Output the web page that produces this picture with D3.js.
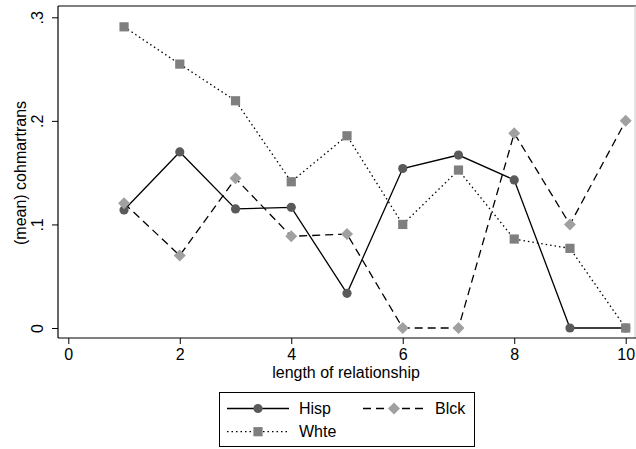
<!DOCTYPE html>
<html><head><meta charset="utf-8">
<script src="https://cdn.jsdelivr.net/npm/d3@7"></script>
<style>body{margin:0;background:#fff}svg{display:block}text{font-family:"Liberation Sans",Arial,sans-serif}</style>
</head><body><svg id="c" width="636" height="449"></svg>
<script>
const xValues = [1,2,3,4,5,6,7,8,9,10];
const hisp = [0.114,0.170,0.115,0.1165,0.0335,0.154,0.167,0.143,0,0];
const blck = [0.1205,0.070,0.1445,0.0885,0.0907,0,0,0.188,0.100,0.200];
const whte = [0.2908,0.2548,0.2194,0.1412,0.1856,0.100,0.1525,0.0859,0.0769,0];
const xTicks = [0,2,4,6,8,10];
const yTicks = [0,0.1,0.2,0.3];
const yTickLabels = ["0",".1",".2",".3"];
const seriesNames = ["Hisp","Blck","Whte"];

const svg = d3.select("#c");
const x = d3.scaleLinear().domain([0,10]).range([68.3,625.7]);
const y = d3.scaleLinear().domain([0,0.3]).range([328,17.3]);
const FS = 16;

// frame
svg.append("line").attr("x1",58).attr("x2",636).attr("y1",6).attr("y2",6).attr("stroke","#000").attr("stroke-width",1.2);
svg.append("line").attr("x1",635).attr("x2",635).attr("y1",6).attr("y2",338).attr("stroke","#c8c8c8").attr("stroke-width",1);

const xAxis = svg.append("g").attr("transform","translate(0,338)")
  .call(d3.axisBottom(x).tickValues(xTicks).tickSize(6).tickPadding(5).tickFormat(d3.format("d")));
xAxis.select(".domain").attr("d","M58,0H636").attr("stroke","#000").attr("stroke-width",1.2);
xAxis.selectAll("text").attr("font-size",FS).attr("fill","#000").attr("font-family","Liberation Sans, Arial, sans-serif");

const yAxis = svg.append("g").attr("transform","translate(58,0)")
  .call(d3.axisLeft(y).tickValues(yTicks).tickSize(6).tickFormat((d,i)=>yTickLabels[i]));
yAxis.select(".domain").attr("d","M0,6V338").attr("stroke","#000").attr("stroke-width",1.2);
yAxis.selectAll("text").attr("font-size",FS).attr("fill","#000").attr("font-family","Liberation Sans, Arial, sans-serif")
  .attr("text-anchor","middle").attr("x",null).attr("dy",null)
  .attr("transform","translate(-15,0) rotate(-90)");

svg.append("text").attr("x",346).attr("y",378).attr("text-anchor","middle").attr("font-size",FS).text("length of relationship");
svg.append("text").attr("transform","translate(26,173) rotate(-90)").attr("text-anchor","middle").attr("font-size",FS).text("(mean) cohmartrans");

const styles = {
  Hisp:{data:hisp,dash:null,color:"#5a5a5a",shape:"circle"},
  Blck:{data:blck,dash:"8,5",color:"#a0a0a0",shape:"diamond"},
  Whte:{data:whte,dash:"1.5,3",color:"#7f7f7f",shape:"square"}
};
function marker(g,shape,cx,cy,color){
  if(shape==="circle") g.append("circle").attr("cx",cx).attr("cy",cy).attr("r",4.6).attr("fill",color);
  else if(shape==="square") g.append("rect").attr("x",cx-4.6).attr("y",cy-4.6).attr("width",9.2).attr("height",9.2).attr("fill",color);
  else g.append("path").attr("d",`M${cx},${cy-6}L${cx+6},${cy}L${cx},${cy+6}L${cx-6},${cy}Z`).attr("fill",color);
}
const line = d3.line().x((d,i)=>x(xValues[i])).y(d=>y(d));
const order = ["Hisp","Blck","Whte"];
order.forEach(n=>{
  const s=styles[n];
  svg.append("path").datum(s.data).attr("d",line).attr("fill","none").attr("stroke","#000")
    .attr("stroke-width",1.3).attr("stroke-dasharray",s.dash);
});
order.forEach(n=>{
  const s=styles[n]; const g=svg.append("g");
  s.data.forEach((v,i)=>marker(g,s.shape,x(xValues[i]),y(v),s.color));
});

// legend
const lg = svg.append("g");
lg.append("rect").attr("x",219.5).attr("y",392.5).attr("width",255).attr("height",54).attr("fill","#fff").attr("stroke","#000").attr("stroke-width",1);
const legendPos = [{n:"Hisp",x0:227,x1:289,ty:408.5,tx:299},{n:"Blck",x0:363,x1:425,ty:408.5,tx:435},{n:"Whte",x0:227,x1:289,ty:431.7,tx:299}];
legendPos.forEach(p=>{
  const s=styles[p.n];
  lg.append("line").attr("x1",p.x0).attr("x2",p.x1).attr("y1",p.ty).attr("y2",p.ty).attr("stroke","#000").attr("stroke-width",1.3).attr("stroke-dasharray",s.dash);
  marker(lg,s.shape,(p.x0+p.x1)/2,p.ty,s.color);
  lg.append("text").attr("x",p.tx).attr("y",p.ty+5.5).attr("font-size",FS).text(p.n);
});
</script></body></html>
